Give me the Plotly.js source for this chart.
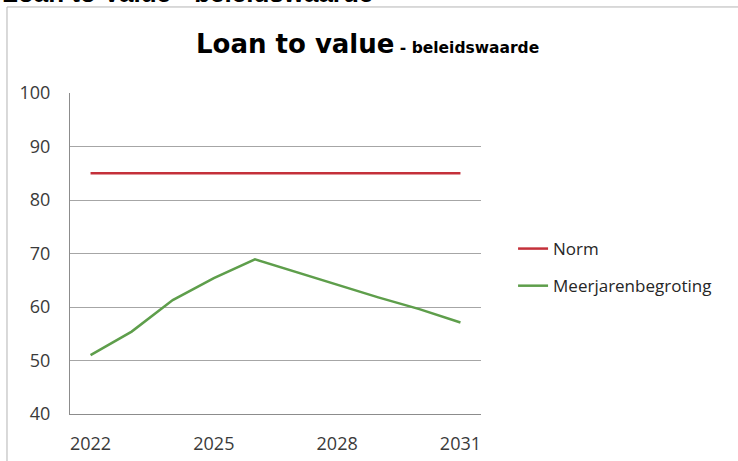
<!DOCTYPE html>
<html><head><meta charset="utf-8">
<script src="https://cdn.plot.ly/plotly-3.0.1.min.js"></script>
<style>html,body{margin:0;padding:0;background:#fff;overflow:hidden}#chart{width:738px;height:461px}</style>
</head><body><div id="chart"></div>
<script>
const years = ['2022','2023','2024','2025','2026','2027','2028','2029','2030','2031'];
const normValues = [85,85,85,85,85,85,85,85,85,85];
const meerjarenValues = [51.0,55.4,61.3,65.4,68.9,66.5,64.1,61.8,59.6,57.1];
const xTickLabels = ['2022','2025','2028','2031'];
const yTickValues = [40,50,60,70,80,90,100];
const seriesNames = ['Norm','Meerjarenbegroting'];

const tickFont = {family:'Open Sans', size:18, color:'#3a3a3a'};

const traces = [
  {x: years, y: normValues, name: seriesNames[0], type:'scatter', mode:'lines',
   line:{color:'#C4303A', width:2.5}, legendgroup:'a'},
  {x: years, y: meerjarenValues, name: seriesNames[1], type:'scatter', mode:'lines',
   line:{color:'#5E9E4B', width:2.5}, legendgroup:'b'}
];

const layout = {
  width:738, height:461,
  margin:{l:70, r:257, t:93, b:47, pad:0},
  paper_bgcolor:'#fff', plot_bgcolor:'#fff',
  showlegend:true,
  legend:{x:1.078, xanchor:'left', y:0.57, yanchor:'top', traceorder:'grouped', tracegroupgap:12,
    font:{family:'Open Sans', size:17, color:'#262626'}, bgcolor:'rgba(0,0,0,0)'},
  xaxis:{type:'category', range:[-0.5, 9.5], tickmode:'array', tickvals:xTickLabels, ticktext:xTickLabels,
    showgrid:false, showline:true, linecolor:'#8c8c8c', linewidth:1, ticks:'', tickfont:tickFont,
    ticklabelstandoff:13, zeroline:false, fixedrange:true},
  yaxis:{range:[40,100], tickmode:'array', tickvals:yTickValues, showgrid:true, gridcolor:'#a6a6a6', gridwidth:1,
    showline:true, linecolor:'#8c8c8c', linewidth:1, ticks:'', tickfont:tickFont, ticklabelstandoff:15,
    zeroline:false, fixedrange:true},
  shapes:[
    {type:'rect', xref:'paper', yref:'paper', x0:-0.1533, x1:2, y0:-1, y1:1.268,
     line:{color:'#b4b4b4', width:1}, fillcolor:'rgba(0,0,0,0)', layer:'below'}
  ],
  annotations:[
    {xref:'paper', yref:'paper', x:-0.170, xanchor:'left', y:1.312, yanchor:'middle', showarrow:false,
     text:'<b>Loan to Value - beleidswaarde</b>', font:{family:'Liberation Sans', size:26, color:'#000'}},
    {xref:'paper', yref:'paper', x:0.3017, xanchor:'left', y:1.153, yanchor:'middle', showarrow:false,
     text:"<b>Loan to value</b><b><span style='font-size:15.5px'> - beleidswaarde</span></b>",
     font:{family:'DejaVu Sans', size:26, color:'#000'}}
  ]
};

Plotly.newPlot('chart', traces, layout, {staticPlot:true, displayModeBar:false});
</script>
</body></html>
